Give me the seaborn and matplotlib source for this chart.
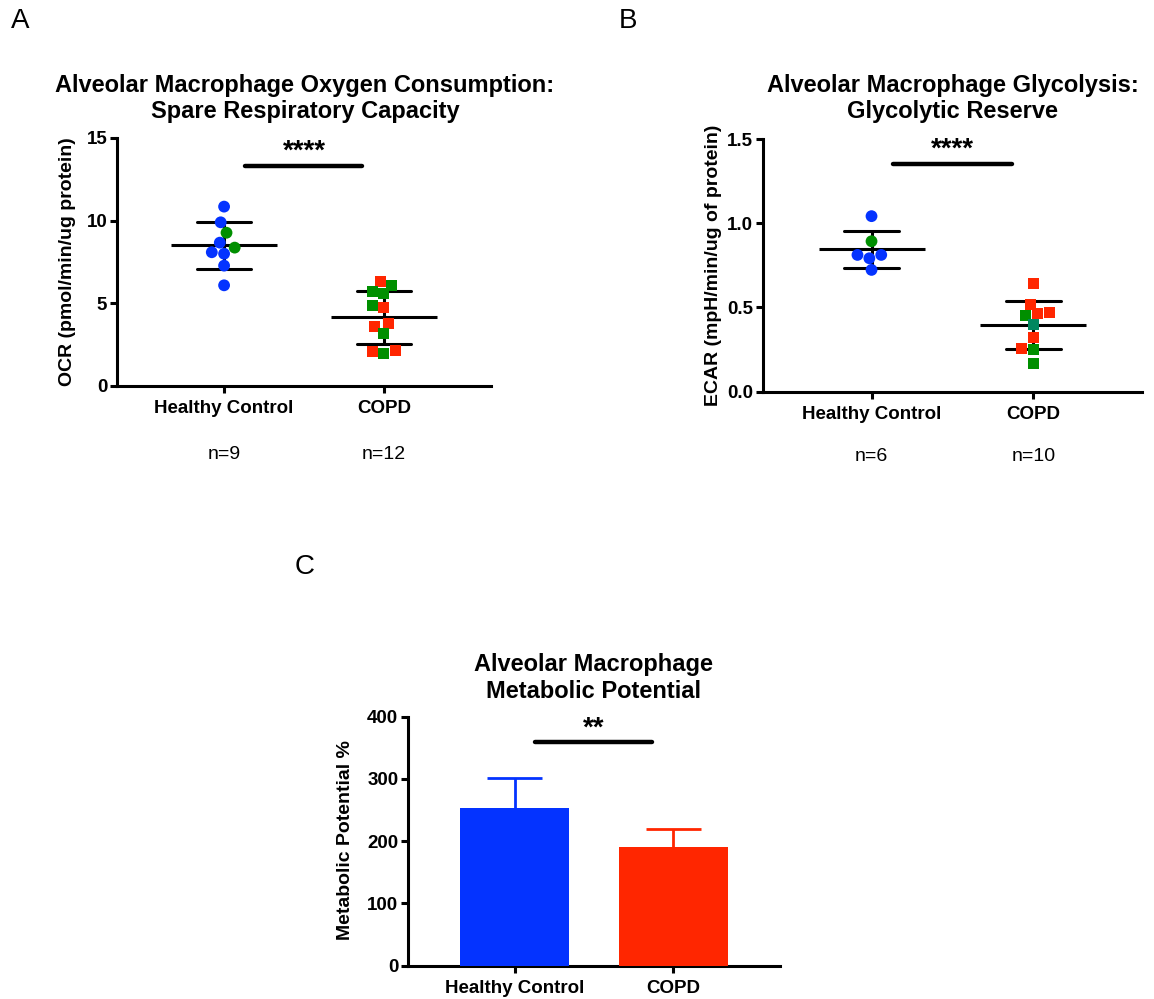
import numpy as np
import pandas as pd
import matplotlib
matplotlib.use("Agg")
import matplotlib.pyplot as plt
import matplotlib.transforms as mtransforms
import seaborn as sns

# ---------------- data ----------------
groups = ["Healthy Control", "COPD"]

# Panel A: OCR spare respiratory capacity
hc_ocr = [10.85, 9.90, 9.27, 8.67, 8.37, 8.09, 8.00, 7.28, 6.09]
hc_ocr_sub = ["main", "main", "alt", "main", "alt", "main", "main", "main", "main"]
copd_ocr = [6.31, 6.07, 5.71, 5.57, 4.86, 4.74, 3.79, 3.59, 3.17, 2.14, 2.08, 1.96]
copd_ocr_sub = ["main", "alt", "alt", "alt", "alt", "main", "main", "main", "alt", "main", "main", "alt"]

# Panel B: ECAR glycolytic reserve
hc_ecar = [1.042, 0.893, 0.812, 0.812, 0.792, 0.723]
hc_ecar_sub = ["main", "alt", "main", "main", "main", "main"]
copd_ecar = [0.641, 0.516, 0.472, 0.4625, 0.450, 0.401, 0.324, 0.258, 0.252, 0.169]
copd_ecar_sub = ["main", "main", "main", "main", "alt", "mixed", "main", "main", "alt", "alt"]

# Panel C: metabolic potential (mean, SD)
mp_mean = [253, 190]
mp_sd = [48, 29]

n_ocr = ["n=9", "n=12"]
n_ecar = ["n=6", "n=10"]

BLUE = "#0433FF"
RED = "#FF2600"
GREEN = "#008F00"
TEAL = "#00875F"

# ---------------- style ----------------
sns.set_style("ticks")
plt.rcParams["font.family"] = ["Liberation Sans", "DejaVu Sans"]
plt.rcParams.update({
    "axes.linewidth": 2.2,
    "axes.edgecolor": "black",
    "axes.labelcolor": "black",
    "text.color": "black",
    "xtick.color": "black",
    "ytick.color": "black",
})

W, H = 1154, 999
fig = plt.figure(figsize=(W / 100, H / 100), dpi=100)


def px_axes(left, top, right, bottom):
    return fig.add_axes([left / W, 1 - bottom / H, (right - left) / W, (bottom - top) / H])


def style_axes(ax):
    sns.despine(ax=ax)
    ax.tick_params(axis="both", width=2.2, length=5, labelsize=13.5, pad=2,
                   color="black", labelcolor="black")
    ax.tick_params(axis="x", pad=5)
    for lab in ax.get_xticklabels() + ax.get_yticklabels():
        lab.set_fontweight("bold")
    ax.set_xlabel("")
    ax.set_ylabel("")
    ax.set_xlim(-0.67, 1.67)


def make_df(hc, hc_sub, copd, copd_sub):
    return pd.DataFrame({
        "group": [groups[0]] * len(hc) + [groups[1]] * len(copd),
        "value": list(hc) + list(copd),
        "sub": list(hc_sub) + list(copd_sub),
    })


def scatter_panel(ax, df, ymax, yticks):
    hc = df[df.group == groups[0]]
    cp = df[df.group == groups[1]]
    sns.swarmplot(data=hc, x="group", y="value", hue="sub", order=groups,
                  palette={"main": BLUE, "alt": GREEN}, marker="o", size=8.5,
                  linewidth=0, legend=False, ax=ax)
    sns.swarmplot(data=cp, x="group", y="value", hue="sub", order=groups,
                  palette={"main": RED, "alt": GREEN, "mixed": TEAL}, marker="s", size=8,
                  linewidth=0, legend=False, ax=ax)
    sns.pointplot(data=df, x="group", y="value", order=groups, errorbar="sd",
                  color="black", markers="_", markersize=76, markeredgewidth=2.2,
                  linestyles="none", capsize=0.34, err_kws={"linewidth": 2.2}, ax=ax)
    ax.set_ylim(0, ymax)
    ax.set_yticks(yticks)


def sig(ax, y_line, stars):
    ax.plot([0.13, 0.865], [y_line, y_line], color="black", lw=3.2,
            solid_capstyle="round", clip_on=False)
    tr = mtransforms.offset_copy(ax.transData, fig=fig, x=0, y=7, units="dots")
    ax.text(0.5, y_line, stars, ha="center", va="baseline", fontsize=20,
            fontweight="bold", clip_on=False, transform=tr)


# ---------------- Panel A ----------------
axA = px_axes(117, 138, 491, 386)
dfA = make_df(hc_ocr, hc_ocr_sub, copd_ocr, copd_ocr_sub)
scatter_panel(axA, dfA, 15, [0, 5, 10, 15])
axA.set_yticklabels(["0", "5", "10", "15"])
style_axes(axA)
sig(axA, 13.3, "****")
trA = mtransforms.blended_transform_factory(axA.transData, axA.transAxes)
for i, t in enumerate(n_ocr):
    axA.text(i, -0.278, t, transform=trA, ha="center", va="center", fontsize=14)
fig.text(305 / W, 1 - 98.5 / H,
         "Alveolar Macrophage Oxygen Consumption:\nSpare Respiratory Capacity",
         ha="center", va="center", fontsize=17, fontweight="bold", linespacing=1.2)
fig.text(67 / W, 1 - 262 / H, "OCR (pmol/min/ug protein)", rotation=90,
         ha="center", va="center", fontsize=14, fontweight="bold")

# ---------------- Panel B ----------------
axB = px_axes(763, 139, 1142, 391.7)
dfB = make_df(hc_ecar, hc_ecar_sub, copd_ecar, copd_ecar_sub)
scatter_panel(axB, dfB, 1.5, [0, 0.5, 1.0, 1.5])
axB.set_yticklabels(["0.0", "0.5", "1.0", "1.5"])
style_axes(axB)
sig(axB, 1.351, "****")
trB = mtransforms.blended_transform_factory(axB.transData, axB.transAxes)
for i, t in enumerate(n_ecar):
    axB.text(i, -0.258, t, transform=trB, ha="center", va="center", fontsize=14)
fig.text(952.5 / W, 1 - 98.5 / H,
         "Alveolar Macrophage Glycolysis:\nGlycolytic Reserve",
         ha="center", va="center", fontsize=17, fontweight="bold", linespacing=1.2)
fig.text(713 / W, 1 - 265 / H, "ECAR (mpH/min/ug of protein)", rotation=90,
         ha="center", va="center", fontsize=14, fontweight="bold")

# ---------------- Panel C ----------------
axC = px_axes(408, 716.7, 780, 965.7)
sns.barplot(x=groups, y=mp_mean, hue=groups, palette=[BLUE, RED], width=0.69,
            saturation=1, legend=False, ax=axC, zorder=3, linewidth=0)
for i, (m, s, c) in enumerate(zip(mp_mean, mp_sd, [BLUE, RED])):
    axC.vlines(i, m, m + s, color=c, lw=2, zorder=2)
    axC.hlines(m + s, i - 0.17, i + 0.17, color=c, lw=2, zorder=2)
axC.set_ylim(0, 400)
axC.set_yticks([0, 100, 200, 300, 400])
axC.set_yticklabels(["0", "100", "200", "300", "400"])
style_axes(axC)
sig(axC, 359, "**")
fig.text(594 / W, 1 - 678 / H, "Alveolar Macrophage\nMetabolic Potential",
         ha="center", va="center", fontsize=17, fontweight="bold", linespacing=1.2)
fig.text(345 / W, 1 - 840 / H, "Metabolic Potential %", rotation=90,
         ha="center", va="center", fontsize=14, fontweight="bold")

# ---------------- panel letters ----------------
for x, y, s in [(20, 21, "A"), (628, 21, "B"), (305, 567, "C")]:
    fig.text(x / W, 1 - y / H, s, ha="center", va="center", fontsize=20)

fig.savefig("out.png", dpi=100)
